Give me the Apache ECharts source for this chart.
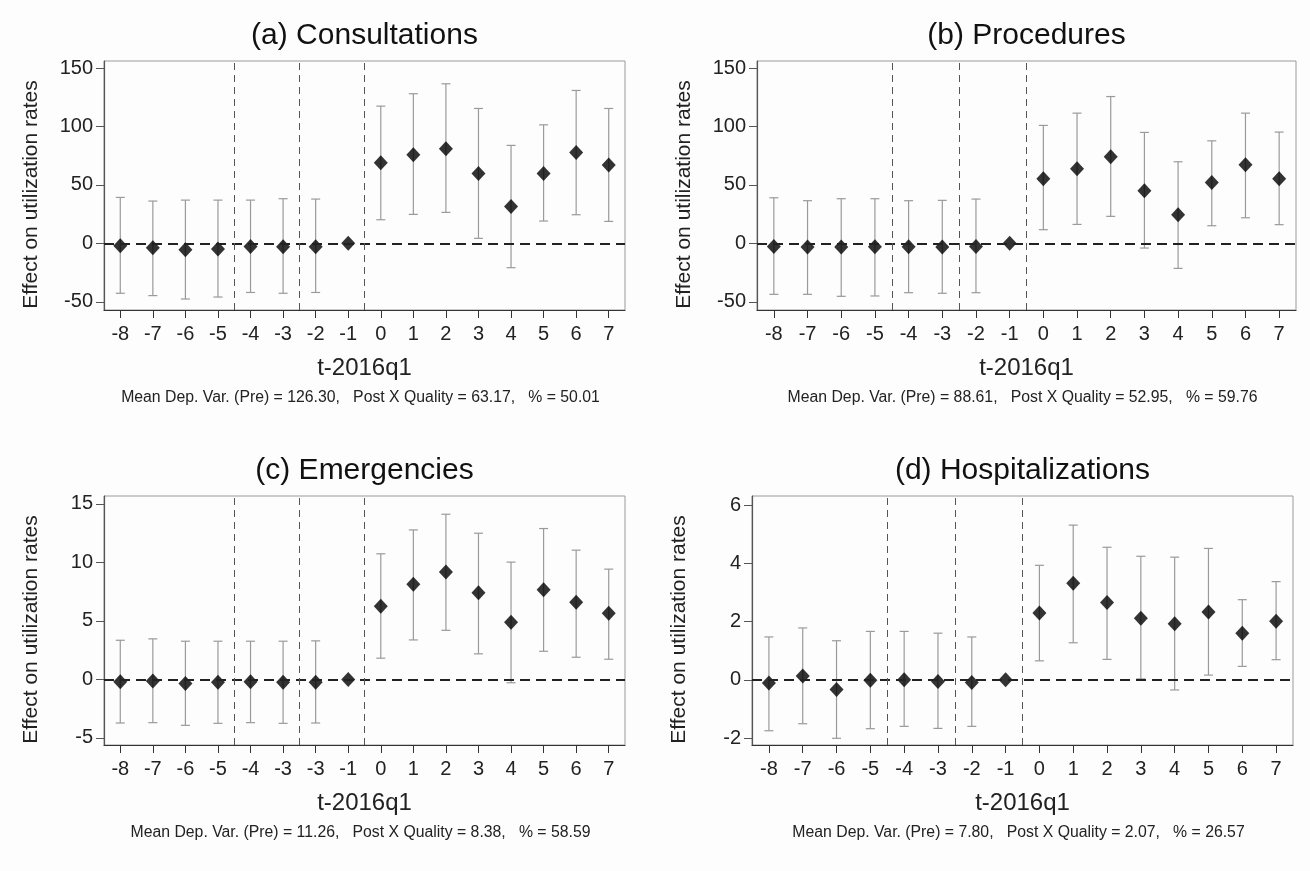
<!DOCTYPE html>
<html>
<head>
<meta charset="utf-8">
<script src="https://cdn.jsdelivr.net/npm/echarts@6/dist/echarts.min.js"></script>
<style>
  html, body { margin: 0; padding: 0; background: #fdfdfd; }
  #chart { width: 1310px; height: 871px; }
</style>
</head>
<body>
<div id="chart"></div>
<script>
// quarters relative to 2016q1
const periods = [-8, -7, -6, -5, -4, -3, -2, -1, 0, 1, 2, 3, 4, 5, 6, 7]
const tickLabels = ['-8', '-7', '-6', '-5', '-4', '-3', '-2', '-1', '0', '1', '2', '3', '4', '5', '6', '7']
// panel (c) prints -3 twice in the original
const tickLabelsC = ['-8', '-7', '-6', '-5', '-4', '-3', '-3', '-1', '0', '1', '2', '3', '4', '5', '6', '7']
const breakLines = [-4.5, -2.5, -0.5]

// (a) Consultations
const coefA = [-2, -3.7, -5.4, -4.8, -2.6, -2.8, -2.8, 0, 69, 75.8, 80.9, 59.8, 31.6, 59.8, 77.8, 67]
const hiA = [39.3, 36.2, 37, 37, 37, 38.2, 37.9, null, 117.4, 128, 136.5, 115.4, 83.8, 101.4, 130.8, 115.4]
const loA = [-42.7, -44.7, -47.6, -45.9, -42, -42.7, -42, null, 20.2, 24.8, 26.5, 4.3, -20.8, 19.1, 24.5, 18.8]
const yTicksA = [-50, 0, 50, 100, 150]

// (b) Procedures
const coefB = [-2.6, -3.1, -3.1, -2.8, -2.8, -3.1, -2.6, 0, 55.3, 63.8, 74.1, 45, 24.5, 52.1, 67.2, 55.3]
const hiB = [39, 36.5, 38.2, 38.2, 36.5, 36.8, 37.9, null, 100.9, 111.4, 125.6, 94.9, 69.8, 87.7, 111.4, 95.2]
const loB = [-43.6, -43.6, -45.3, -45, -42.2, -42.7, -42.2, null, 11.7, 16.2, 23.1, -4, -21.4, 15.1, 21.9, 16]
const yTicksB = [-50, 0, 50, 100, 150]

// (c) Emergencies
const coefC = [-0.2, -0.14, -0.34, -0.23, -0.2, -0.23, -0.23, 0, 6.25, 8.13, 9.18, 7.41, 4.89, 7.67, 6.59, 5.65]
const hiC = [3.35, 3.47, 3.27, 3.27, 3.27, 3.27, 3.3, null, 10.74, 12.78, 14.12, 12.5, 10.03, 12.9, 11.05, 9.43]
const loC = [-3.72, -3.69, -3.92, -3.75, -3.69, -3.75, -3.72, null, 1.82, 3.38, 4.2, 2.19, -0.28, 2.41, 1.9, 1.73]
const yTicksC = [-5, 0, 5, 10, 15]

// (d) Hospitalizations
const coefD = [-0.11, 0.13, -0.33, -0.02, 0, -0.06, -0.09, 0, 2.29, 3.31, 2.65, 2.11, 1.92, 2.33, 1.6, 2.01]
const hiD = [1.47, 1.78, 1.34, 1.66, 1.66, 1.6, 1.47, null, 3.93, 5.31, 4.55, 4.24, 4.21, 4.51, 2.75, 3.37]
const loD = [-1.75, -1.51, -2.01, -1.68, -1.6, -1.67, -1.6, null, 0.65, 1.27, 0.7, 0.03, -0.35, 0.16, 0.46, 0.69]
const yTicksD = [-2, 0, 2, 4, 6]

const titles = ['(a) Consultations', '(b) Procedures', '(c) Emergencies', '(d) Hospitalizations']
const notes = [
  'Mean Dep. Var. (Pre) = 126.30,   Post X Quality = 63.17,   % = 50.01',
  'Mean Dep. Var. (Pre) = 88.61,   Post X Quality = 52.95,   % = 59.76',
  'Mean Dep. Var. (Pre) = 11.26,   Post X Quality = 8.38,   % = 58.59',
  'Mean Dep. Var. (Pre) = 7.80,   Post X Quality = 2.07,   % = 26.57'
]

const panels = [
  { coef: coefA, lo: loA, hi: hiA, ticks: yTicksA, labels: tickLabels, min: -57, max: 156, grid: { left: 104, top: 61, width: 521, height: 249 } },
  { coef: coefB, lo: loB, hi: hiB, ticks: yTicksB, labels: tickLabels, min: -57, max: 156, grid: { left: 757, top: 61, width: 539, height: 249 } },
  { coef: coefC, lo: loC, hi: hiC, ticks: yTicksC, labels: tickLabelsC, min: -5.6, max: 15.68, grid: { left: 104, top: 496, width: 521, height: 249 } },
  { coef: coefD, lo: loD, hi: hiD, ticks: yTicksD, labels: tickLabels, min: -2.24, max: 6.31, grid: { left: 752, top: 496, width: 541, height: 249 } }
]

const FONT = '"Liberation Sans", Arial, sans-serif'
const chart = echarts.init(document.getElementById('chart'))

const renderErrorBar = (params, api) => {
  const x = api.value(0)
  const top = api.coord([x, api.value(2)])
  const bottom = api.coord([x, api.value(1)])
  const half = 4.5
  const style = { stroke: '#9a9a9a', lineWidth: 1.2 }
  return {
    type: 'group',
    children: [
      { type: 'line', shape: { x1: top[0], y1: top[1], x2: bottom[0], y2: bottom[1] }, style },
      { type: 'line', shape: { x1: top[0] - half, y1: top[1], x2: top[0] + half, y2: top[1] }, style },
      { type: 'line', shape: { x1: bottom[0] - half, y1: bottom[1], x2: bottom[0] + half, y2: bottom[1] }, style }
    ]
  }
}

const grids = []
const xAxes = []
const yAxes = []
const series = []
const titleList = []

panels.forEach((p, i) => {
  grids.push({ ...p.grid, show: true, borderColor: '#9a9a9a', borderWidth: 1, backgroundColor: 'transparent', outerBoundsMode: 'none' })

  xAxes.push({
    gridIndex: i,
    type: 'value',
    min: -8.5,
    max: 7.5,
    name: 't-2016q1',
    nameLocation: 'middle',
    nameGap: 46,
    nameTextStyle: { fontFamily: FONT, fontSize: 24, color: '#222' },
    axisLine: { onZero: false, lineStyle: { color: '#333', width: 1.2 } },
    axisTick: { customValues: periods, length: 8, lineStyle: { color: '#333' } },
    axisLabel: {
      customValues: periods,
      margin: 14,
      fontFamily: FONT,
      fontSize: 20,
      color: '#222',
      formatter: (v) => p.labels[periods.indexOf(Math.round(v))]
    },
    splitLine: { show: false }
  })

  yAxes.push({
    gridIndex: i,
    type: 'value',
    min: p.min,
    max: p.max,
    name: 'Effect on utilization rates',
    nameLocation: 'middle',
    nameGap: 62,
    nameTextStyle: { fontFamily: FONT, fontSize: 21, color: '#222', padding: [0, 0, 0, -18] },
    axisLine: { show: true, onZero: false, lineStyle: { color: '#555', width: 1.2 } },
    axisTick: { show: true, customValues: p.ticks, length: 8, lineStyle: { color: '#555' } },
    axisLabel: { customValues: p.ticks, margin: 11, fontFamily: FONT, fontSize: 20, color: '#222' },
    splitLine: { show: false }
  })

  const bars = []
  periods.forEach((t, k) => {
    if (p.lo[k] !== null) bars.push([t, p.lo[k], p.hi[k]])
  })

  series.push({
    type: 'custom',
    xAxisIndex: i,
    yAxisIndex: i,
    renderItem: renderErrorBar,
    encode: { x: 0, y: [1, 2] },
    data: bars,
    silent: true,
    z: 2
  })

  series.push({
    type: 'scatter',
    xAxisIndex: i,
    yAxisIndex: i,
    symbol: 'diamond',
    symbolSize: [14, 15],
    itemStyle: { color: '#000' },
    data: periods.map((t, k) => [t, p.coef[k]]),
    z: 4,
    markLine: {
      silent: true,
      symbol: 'none',
      label: { show: false },
      data: [
        { yAxis: 0, lineStyle: { color: '#222', width: 2, type: [10, 6] } },
        ...breakLines.map((x) => ({ xAxis: x, lineStyle: { color: '#555', width: 1, type: [7, 5] } }))
      ]
    }
  })

  const cx = p.grid.left + p.grid.width / 2
  titleList.push({
    text: titles[i],
    left: cx,
    top: p.grid.top - 40,
    textAlign: 'center',
    padding: 0,
    textStyle: { fontFamily: FONT, fontSize: 30, fontWeight: 'normal', color: '#111' }
  })
  titleList.push({
    text: notes[i],
    left: cx - 4,
    top: p.grid.top + 329,
    textAlign: 'center',
    padding: 0,
    textStyle: { fontFamily: FONT, fontSize: 15.8, fontWeight: 'normal', color: '#222' }
  })
})

chart.setOption({
  backgroundColor: '#fdfdfd',
  animation: false,
  title: titleList,
  grid: grids,
  xAxis: xAxes,
  yAxis: yAxes,
  series: series
})
</script>
</body>
</html>
